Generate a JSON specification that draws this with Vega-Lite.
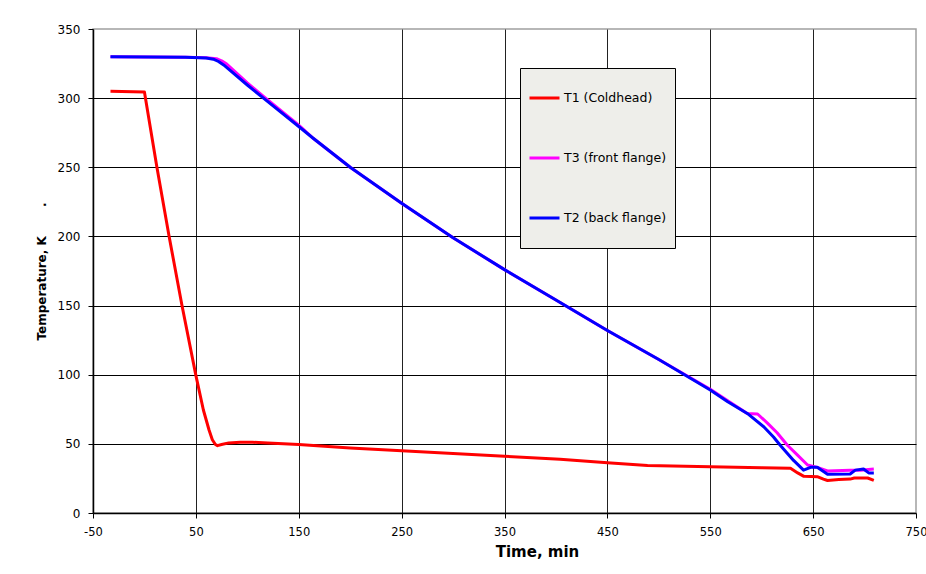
{
  "$schema": "https://vega.github.io/schema/vega-lite/v6.json",
  "autosize": "none",
  "width": 823,
  "height": 484,
  "padding": {"left": 93, "top": 29, "right": 10, "bottom": 61},
  "background": "white",
  "config": {
    "font": "DejaVu Sans",
    "view": {"stroke": "#A0A0A0", "strokeWidth": 1.5}
  },
  "data": {
    "values": [
      {"series": "T1 (Coldhead)", "time": -33, "temp": 305},
      {"series": "T1 (Coldhead)", "time": 0, "temp": 304.5},
      {"series": "T1 (Coldhead)", "time": 12, "temp": 250.5},
      {"series": "T1 (Coldhead)", "time": 24, "temp": 200},
      {"series": "T1 (Coldhead)", "time": 36.5, "temp": 150},
      {"series": "T1 (Coldhead)", "time": 50, "temp": 99.5},
      {"series": "T1 (Coldhead)", "time": 57.3, "temp": 74.5},
      {"series": "T1 (Coldhead)", "time": 62.8, "temp": 60},
      {"series": "T1 (Coldhead)", "time": 66, "temp": 53},
      {"series": "T1 (Coldhead)", "time": 69, "temp": 49.5},
      {"series": "T1 (Coldhead)", "time": 71, "temp": 48.7},
      {"series": "T1 (Coldhead)", "time": 75, "temp": 49.5},
      {"series": "T1 (Coldhead)", "time": 82, "temp": 50.7},
      {"series": "T1 (Coldhead)", "time": 93, "temp": 51.1},
      {"series": "T1 (Coldhead)", "time": 105, "temp": 51.2},
      {"series": "T1 (Coldhead)", "time": 120, "temp": 50.6},
      {"series": "T1 (Coldhead)", "time": 150, "temp": 49.5},
      {"series": "T1 (Coldhead)", "time": 200, "temp": 47},
      {"series": "T1 (Coldhead)", "time": 250, "temp": 45},
      {"series": "T1 (Coldhead)", "time": 300, "temp": 43},
      {"series": "T1 (Coldhead)", "time": 350, "temp": 41},
      {"series": "T1 (Coldhead)", "time": 404, "temp": 38.8},
      {"series": "T1 (Coldhead)", "time": 450, "temp": 36.4},
      {"series": "T1 (Coldhead)", "time": 489, "temp": 34.4},
      {"series": "T1 (Coldhead)", "time": 550, "temp": 33.5},
      {"series": "T1 (Coldhead)", "time": 600, "temp": 32.8},
      {"series": "T1 (Coldhead)", "time": 628, "temp": 32.3},
      {"series": "T1 (Coldhead)", "time": 635, "temp": 29},
      {"series": "T1 (Coldhead)", "time": 641, "temp": 26.5},
      {"series": "T1 (Coldhead)", "time": 654, "temp": 26.3},
      {"series": "T1 (Coldhead)", "time": 660, "temp": 24.5},
      {"series": "T1 (Coldhead)", "time": 664, "temp": 23.5},
      {"series": "T1 (Coldhead)", "time": 675, "temp": 24.2},
      {"series": "T1 (Coldhead)", "time": 686, "temp": 24.5},
      {"series": "T1 (Coldhead)", "time": 690, "temp": 25.3},
      {"series": "T1 (Coldhead)", "time": 703, "temp": 25.3},
      {"series": "T1 (Coldhead)", "time": 709, "temp": 23.6},
      {"series": "T3 (front flange)", "time": -33, "temp": 330},
      {"series": "T3 (front flange)", "time": 40, "temp": 329.5},
      {"series": "T3 (front flange)", "time": 60, "temp": 329.2},
      {"series": "T3 (front flange)", "time": 70, "temp": 328.5},
      {"series": "T3 (front flange)", "time": 75, "temp": 327},
      {"series": "T3 (front flange)", "time": 80, "temp": 324.6},
      {"series": "T3 (front flange)", "time": 100, "temp": 311},
      {"series": "T3 (front flange)", "time": 116, "temp": 301},
      {"series": "T3 (front flange)", "time": 150, "temp": 280.5},
      {"series": "T3 (front flange)", "time": 164, "temp": 271},
      {"series": "T3 (front flange)", "time": 200, "temp": 250},
      {"series": "T3 (front flange)", "time": 250, "temp": 224},
      {"series": "T3 (front flange)", "time": 300, "temp": 199},
      {"series": "T3 (front flange)", "time": 350, "temp": 176},
      {"series": "T3 (front flange)", "time": 400, "temp": 154},
      {"series": "T3 (front flange)", "time": 450, "temp": 132},
      {"series": "T3 (front flange)", "time": 500, "temp": 111},
      {"series": "T3 (front flange)", "time": 550, "temp": 89.5},
      {"series": "T3 (front flange)", "time": 567, "temp": 81.2},
      {"series": "T3 (front flange)", "time": 586, "temp": 72},
      {"series": "T3 (front flange)", "time": 596, "temp": 71.6},
      {"series": "T3 (front flange)", "time": 605.6, "temp": 65},
      {"series": "T3 (front flange)", "time": 615, "temp": 58},
      {"series": "T3 (front flange)", "time": 625, "temp": 49},
      {"series": "T3 (front flange)", "time": 634.6, "temp": 42},
      {"series": "T3 (front flange)", "time": 644.6, "temp": 34.7},
      {"series": "T3 (front flange)", "time": 654, "temp": 33},
      {"series": "T3 (front flange)", "time": 664, "temp": 30.4},
      {"series": "T3 (front flange)", "time": 686, "temp": 31},
      {"series": "T3 (front flange)", "time": 696, "temp": 31},
      {"series": "T3 (front flange)", "time": 709, "temp": 31.8},
      {"series": "T2 (back flange)", "time": -33, "temp": 330},
      {"series": "T2 (back flange)", "time": 40, "temp": 329.5},
      {"series": "T2 (back flange)", "time": 60, "temp": 329},
      {"series": "T2 (back flange)", "time": 67, "temp": 328.2},
      {"series": "T2 (back flange)", "time": 72, "temp": 326.5},
      {"series": "T2 (back flange)", "time": 77, "temp": 324},
      {"series": "T2 (back flange)", "time": 100, "temp": 309.5},
      {"series": "T2 (back flange)", "time": 115.7, "temp": 300},
      {"series": "T2 (back flange)", "time": 150, "temp": 279.5},
      {"series": "T2 (back flange)", "time": 164, "temp": 271},
      {"series": "T2 (back flange)", "time": 200, "temp": 250},
      {"series": "T2 (back flange)", "time": 250, "temp": 224},
      {"series": "T2 (back flange)", "time": 300, "temp": 199},
      {"series": "T2 (back flange)", "time": 350, "temp": 176},
      {"series": "T2 (back flange)", "time": 400, "temp": 154},
      {"series": "T2 (back flange)", "time": 450, "temp": 132},
      {"series": "T2 (back flange)", "time": 500, "temp": 111},
      {"series": "T2 (back flange)", "time": 550, "temp": 89},
      {"series": "T2 (back flange)", "time": 567, "temp": 80.5},
      {"series": "T2 (back flange)", "time": 586, "temp": 72},
      {"series": "T2 (back flange)", "time": 602, "temp": 62.4},
      {"series": "T2 (back flange)", "time": 611.5, "temp": 55},
      {"series": "T2 (back flange)", "time": 618, "temp": 49},
      {"series": "T2 (back flange)", "time": 631, "temp": 38},
      {"series": "T2 (back flange)", "time": 640.7, "temp": 31},
      {"series": "T2 (back flange)", "time": 647.5, "temp": 33},
      {"series": "T2 (back flange)", "time": 654, "temp": 33},
      {"series": "T2 (back flange)", "time": 664, "temp": 28},
      {"series": "T2 (back flange)", "time": 686, "temp": 28.2},
      {"series": "T2 (back flange)", "time": 691, "temp": 31},
      {"series": "T2 (back flange)", "time": 699, "temp": 31.8},
      {"series": "T2 (back flange)", "time": 704, "temp": 29},
      {"series": "T2 (back flange)", "time": 709, "temp": 29}
    ]
  },
  "mark": {"type": "line", "strokeWidth": 3, "strokeJoin": "round", "clip": true},
  "encoding": {
    "x": {
      "field": "time",
      "type": "quantitative",
      "scale": {"domain": [-50, 750], "nice": false, "zero": false},
      "axis": {
        "values": [-50, 50, 150, 250, 350, 450, 550, 650, 750],
        "labelExpr": "replace(datum.label, '\u2212', '-')",
        "title": "Time, min",
        "titleFont": "DejaVu Sans",
        "titleFontWeight": "bold",
        "titleFontSize": 15,
        "titleColor": "#000",
        "titleX": 444,
        "titleY": 38,
        "titleBaseline": "middle",
        "labelFont": "DejaVu Sans",
        "labelFontSize": 11.5,
        "labelColor": "#000",
        "labelPadding": 8,
        "labelDx": -1.5,
        "labelFlush": false,
        "tickSize": 5,
        "tickColor": "#000",
        "domainColor": "#000",
        "domainWidth": 1.5,
        "grid": true,
        "gridColor": {"condition": {"test": "datum.value >= 750 || datum.value <= -50", "value": "transparent"}, "value": "#222"},
        "gridWidth": 1
      }
    },
    "y": {
      "field": "temp",
      "type": "quantitative",
      "scale": {"domain": [0, 350], "nice": false},
      "axis": {
        "values": [0, 50, 100, 150, 200, 250, 300, 350],
        "title": "Temperature, K\u00a0\u00a0\u00a0\u00a0\u00a0\u00a0\u00a0.",
        "titleFont": "DejaVu Sans",
        "titleFontWeight": "bold",
        "titleFontSize": 12,
        "titleColor": "#000",
        "titleX": -52,
        "titleY": 242,
        "titleAngle": -90,
        "titleAlign": "center",
        "titleBaseline": "middle",
        "labelFont": "DejaVu Sans",
        "labelFontSize": 12,
        "labelColor": "#000",
        "labelPadding": 8,
        "labelFlush": false,
        "tickSize": 5,
        "tickColor": "#000",
        "domainColor": "#000",
        "domainWidth": 1.5,
        "grid": true,
        "gridColor": {"condition": {"test": "datum.value >= 350 || datum.value <= 0", "value": "transparent"}, "value": "#000"},
        "gridWidth": 1
      }
    },
    "color": {
      "field": "series",
      "type": "nominal",
      "scale": {
        "domain": ["T1 (Coldhead)", "T3 (front flange)", "T2 (back flange)"],
        "range": ["#FF0000", "#FF00FF", "#0000FF"]
      },
      "legend": {
        "title": null,
        "orient": "none",
        "legendX": 427,
        "legendY": 39,
        "direction": "vertical",
        "fillColor": "#EEEEEA",
        "strokeColor": "#000",
        "padding": 8,
        "symbolType": "stroke",
        "symbolSize": 900,
        "symbolStrokeWidth": 3,
        "labelOffset": 3,
        "labelFont": "DejaVu Sans",
        "labelFontSize": 12.5,
        "labelColor": "#000",
        "labelLimit": 200,
        "clipHeight": 44,
        "rowPadding": 16
      }
    }
  }
}
